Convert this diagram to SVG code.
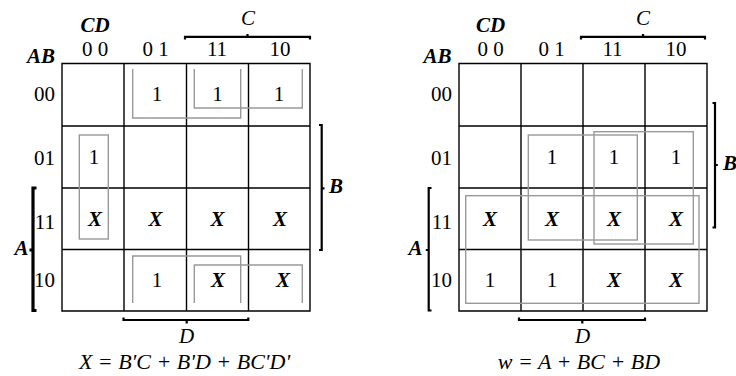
<svg xmlns="http://www.w3.org/2000/svg" width="736" height="376" viewBox="0 0 736 376">
<style>
text{font-family:"Liberation Serif","Times New Roman",serif;font-size:21px;fill:#000}
.m{text-anchor:middle}
.e{text-anchor:end}
.i{font-style:italic}
.b{font-style:italic;font-weight:bold}
.f{font-style:italic;font-size:22px}
.grid{fill:none;stroke:#000;stroke-width:1.4}
.loop{fill:none;stroke:#999;stroke-width:1.4}
.br{fill:none;stroke:#000;stroke-width:2.2}
</style>
<rect width="736" height="376" fill="#fff"/>

<!-- LEFT MAP -->
<g id="mapX">
  <g id="mapX-grid">
    <path class="grid" d="M62 63.5H310V311H62Z M124 63.5V311 M186.5 63.5V311 M248.5 63.5V311 M62 126H310 M62 188H310 M62 249.5H310"/>
  </g>
  <g id="mapX-labels">
    <text class="b m" x="95" y="31.5">CD</text>
    <text class="b m" x="41" y="63">AB</text>
    <text class="m" x="95" y="56">0 0</text>
    <text class="m" x="155.5" y="56">0 1</text>
    <text class="m" x="217" y="56">11</text>
    <text class="m" x="280" y="56">10</text>
    <text class="e" x="55" y="101">00</text>
    <text class="e" x="55" y="165">01</text>
    <text class="e" x="55" y="229">11</text>
    <text class="e" x="55" y="287">10</text>
    <text class="i m" x="248" y="25">C</text>
    <text class="b" x="329" y="193">B</text>
    <text class="b m" x="21.5" y="255">A</text>
    <text class="i m" x="186.5" y="343">D</text>
    <text class="f m" x="184.5" y="369">X = B'C + B'D + BC'D'</text>
  </g>
  <g id="mapX-cells">
    <text class="m" x="157" y="101">1</text>
    <text class="m" x="217.5" y="101">1</text>
    <text class="m" x="279" y="101">1</text>
    <text class="m" x="94" y="164">1</text>
    <text class="b m" x="95" y="226">X</text>
    <text class="b m" x="155.5" y="226">X</text>
    <text class="b m" x="217.5" y="226">X</text>
    <text class="b m" x="280" y="226">X</text>
    <text class="m" x="157" y="287">1</text>
    <text class="b m" x="218" y="287">X</text>
    <text class="b m" x="283" y="287">X</text>
  </g>
</g>

<!-- RIGHT MAP -->
<g id="mapW">
  <g id="mapW-grid">
    <path class="grid" d="M459 63.5H707V311H459Z M521 63.5V311 M583 63.5V311 M645 63.5V311 M459 126H707 M459 188H707 M459 249.5H707"/>
  </g>
  <g id="mapW-labels">
    <text class="b m" x="490.5" y="31.5">CD</text>
    <text class="b m" x="437.5" y="63">AB</text>
    <text class="m" x="490.5" y="56">0 0</text>
    <text class="m" x="551.5" y="56">0 1</text>
    <text class="m" x="612.5" y="56">11</text>
    <text class="m" x="676" y="56">10</text>
    <text class="e" x="452" y="101">00</text>
    <text class="e" x="452" y="165">01</text>
    <text class="e" x="452" y="229">11</text>
    <text class="e" x="452" y="287">10</text>
    <text class="i m" x="643" y="25">C</text>
    <text class="b" x="723" y="170">B</text>
    <text class="b m" x="415.5" y="255">A</text>
    <text class="i m" x="582.5" y="343">D</text>
    <text class="f m" x="579" y="369">w = A + BC + BD</text>
  </g>
  <g id="mapW-cells">
    <text class="m" x="552" y="164">1</text>
    <text class="m" x="614" y="164">1</text>
    <text class="m" x="676" y="164">1</text>
    <text class="b m" x="490" y="226">X</text>
    <text class="b m" x="552" y="226">X</text>
    <text class="b m" x="614" y="226">X</text>
    <text class="b m" x="676" y="226">X</text>
    <text class="m" x="490" y="287">1</text>
    <text class="m" x="552" y="287">1</text>
    <text class="b m" x="614" y="287">X</text>
    <text class="b m" x="676" y="287">X</text>
  </g>
</g>

<!-- connectors: brackets and grouping loops -->
<g id="connectors">
  <path class="br" d="M185 39.5V36.8H310V39.5 M247.5 36.8V34"/>
  <path class="br" d="M319 125H321.7V250H319 M321.7 188.3H324.5"/>
  <path class="br" style="stroke-width:3.2" d="M36.5 188H33V310.5H36.5 M33 250H29.5"/>
  <path class="br" d="M123.5 317.5V320H248.3V317.5 M186.7 320V323.5"/>
  <path class="br" d="M581 39.5V36.8H705V39.5 M643 36.8V34"/>
  <path class="br" d="M712.5 103H715V227.5H712.5 M715 165H717.8"/>
  <path class="br" d="M431.5 188H428.7V310.5H431.5 M428.7 250H425.8"/>
  <path class="br" d="M519 317.5V320H645V317.5 M582.3 320V323.5"/>

  <path class="loop" d="M132.7 69V118H240.7V69"/>
  <path class="loop" d="M132.7 303V256H240.7V303"/>
  <path class="loop" d="M194.3 69V108H302.3V69"/>
  <path class="loop" d="M194.3 303V265H302.3V303"/>
  <rect class="loop" x="79.3" y="135" width="29" height="104"/>

  <rect class="loop" x="465.7" y="195.7" width="233.3" height="107.6"/>
  <rect class="loop" x="528.3" y="135" width="109" height="105"/>
  <rect class="loop" x="594" y="131.7" width="99.3" height="112.3"/>
</g>
</svg>
